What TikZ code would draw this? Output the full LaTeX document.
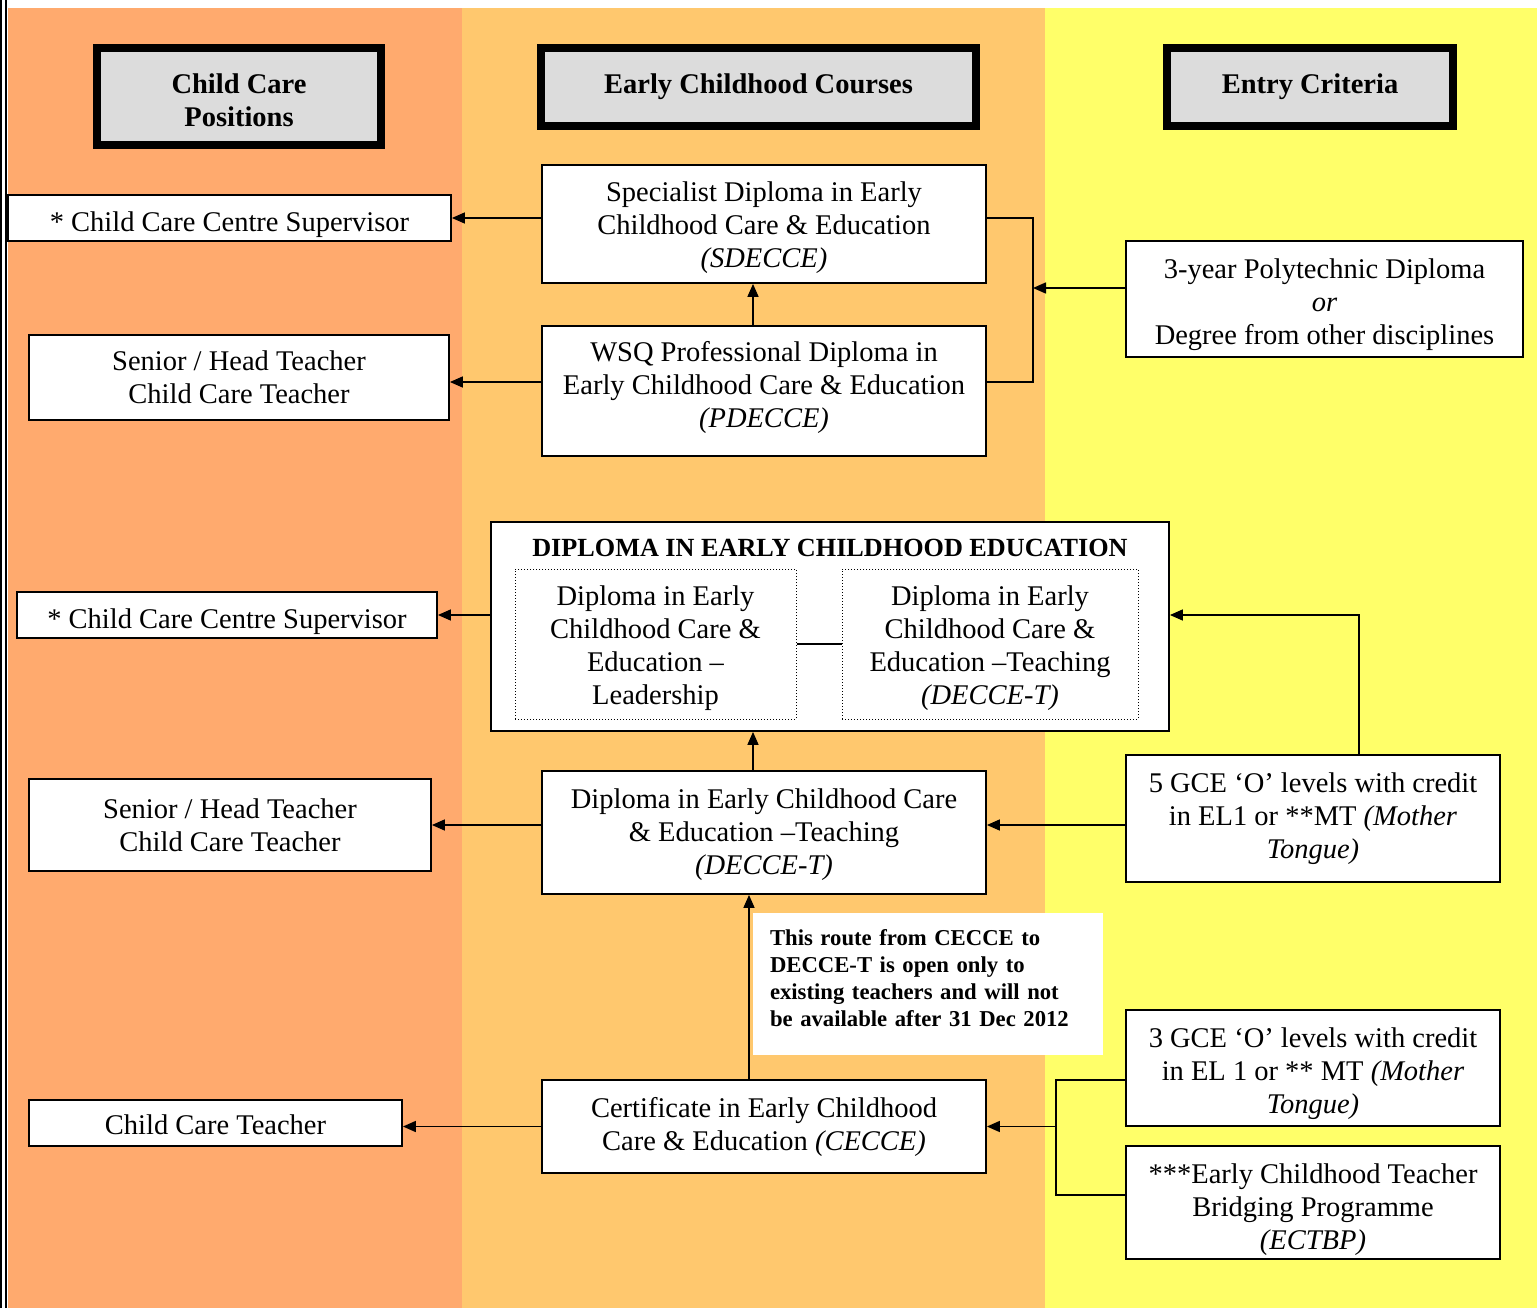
\documentclass[tikz,border=0pt]{standalone}
\usepackage{fontspec}
\setmainfont{Liberation Serif}
\usetikzlibrary{arrows.meta}
\definecolor{colA}{RGB}{255,170,110}
\definecolor{colB}{RGB}{255,200,110}
\definecolor{colC}{RGB}{255,255,105}
\definecolor{hgray}{RGB}{220,220,220}
\newcommand\mvtext[3]{\raisebox{#1}[\height][\depth]{\begin{tabular}{@{}#2@{}}#3\end{tabular}}}
\begin{document}
\begin{tikzpicture}[x=1pt,y=-1pt,
  every node/.style={font=\fontsize{28.5}{33}\selectfont},
  box/.style={draw=black, line width=1.8pt, fill=white, inner sep=0pt, align=center},
  inbox/.style={draw=black, line width=1pt, dotted, inner sep=0pt, align=center},
  hdr/.style={draw=black, line width=6pt, fill=hgray, inner sep=0pt, align=center, font=\bfseries\fontsize{28.5}{33}\selectfont},
  arr/.style={line width=1.6pt, -{Triangle[length=13pt,width=11pt]}},
  ln/.style={line width=1.6pt}]
\useasboundingbox (0,0) rectangle (1537,1308);
% backgrounds
\fill[white] (0,0) rectangle (1537,1308);
\fill[colA] (8,8) rectangle (462,1308);
\fill[colB] (462,8) rectangle (1045,1308);
\fill[colC] (1045,8) rectangle (1537,1308);
\draw[line width=1.6pt] (1,0) -- (1,1308);
\draw[line width=1.6pt] (6,0) -- (6,1308);
% headers
\node[hdr, minimum width=286, minimum height=99] (h1) at (239,96.5) {\mvtext{-7pt}{c}{Child Care\\Positions}};
\node[hdr, minimum width=437, minimum height=80] (h2) at (758.5,87) {Early Childhood Courses};
\node[hdr, minimum width=288, minimum height=80] (h3) at (1310,87) {Entry Criteria};
\foreach \h in {h1,h2,h3}{
  \draw[line width=1.5pt] ([shift={(7,7)}]\h.north west) rectangle ([shift={(-7,-7)}]\h.south east);
}
% left column
\node[box, minimum width=443, minimum height=46] (l1) at (229.5,218) {\mvtext{-7pt}{c}{* Child Care Centre Supervisor}};
\node[box, minimum width=420, minimum height=85] (l2) at (239,377.5) {Senior / Head Teacher\\Child Care Teacher};
\node[box, minimum width=420, minimum height=46] (l3) at (227,615) {\mvtext{-7pt}{c}{* Child Care Centre Supervisor}};
\node[box, minimum width=402, minimum height=92] (l4) at (230,825) {Senior / Head Teacher\\Child Care Teacher};
\node[box, minimum width=373, minimum height=46] (l5) at (215.5,1123) {\mvtext{-5pt}{c}{Child Care Teacher}};
% middle column
\node[box, minimum width=444, minimum height=118] (m1) at (764,224) {\mvtext{-4pt}{c}{Specialist Diploma in Early\\Childhood Care \& Education\\\textit{(SDECCE)}}};
\node[box, minimum width=444, minimum height=130] (m2) at (764,391) {\mvtext{3pt}{c}{WSQ Professional Diploma in\\Early Childhood Care \& Education\\\textit{(PDECCE)}}};
\node[box, minimum width=678, minimum height=209] (m3) at (830,626.5) {};
\node[font=\bfseries\fontsize{26.2}{30}\selectfont, inner sep=0pt] (m3t) at (830,548) {DIPLOMA IN EARLY CHILDHOOD EDUCATION};
\node[inbox, minimum width=281, minimum height=150] (m3a) at (655.5,644) {\mvtext{-4pt}{c}{Diploma in Early\\Childhood Care \&\\Education –\\Leadership}};
\node[inbox, minimum width=296, minimum height=150] (m3b) at (990,644) {\mvtext{-4pt}{c}{Diploma in Early\\Childhood Care \&\\Education –Teaching\\\textit{(DECCE-T)}}};
\node[box, minimum width=444, minimum height=123] (m4) at (764,832.5) {\mvtext{-2pt}{c}{Diploma in Early Childhood Care\\\& Education –Teaching\\\textit{(DECCE-T)}}};
\node[fill=white, minimum width=350, minimum height=142, text width=316, inner xsep=17pt, inner ysep=0pt, align=left, font=\bfseries\fontsize{22.7}{27}\selectfont] (note) at (928,984) {\mvtext{3pt}{l}{This route from CECCE to\\DECCE-T is open only to\\existing teachers and will not\\be available after 31 Dec 2012}};
\node[box, minimum width=444, minimum height=93] (m5) at (764,1126.5) {Certificate in Early Childhood\\Care \& Education \textit{(CECCE)}};
% right column
\node[box, minimum width=397, minimum height=116] (r1) at (1324.5,299) {\mvtext{-6pt}{c}{3-year Polytechnic Diploma\\\textit{or}\\Degree from other disciplines}};
\node[box, minimum width=374, minimum height=127] (r2) at (1313,818.5) {5 GCE ‘O’ levels with credit\\in EL1 or **MT \textit{(Mother}\\\textit{Tongue)}};
\node[box, minimum width=374, minimum height=116] (r3) at (1313,1068) {\mvtext{-6pt}{c}{3 GCE ‘O’ levels with credit\\in EL 1 or ** MT \textit{(Mother}\\\textit{Tongue)}}};
\node[box, minimum width=374, minimum height=113] (r4) at (1313,1202.5) {\mvtext{-7pt}{c}{***Early Childhood Teacher\\Bridging Programme\\\textit{(ECTBP)}}};
% connectors
\coordinate (b1) at (1033,218);
\coordinate (b2) at (1033,382);
\coordinate (b3) at (1033,288);
\coordinate (c1) at (1359,615);
\coordinate (d1) at (1056,1080);
\coordinate (d2) at (1056,1195);
\draw[arr] (m1.west |- b1) -- (l1.east |- b1);
\draw[arr] (m2.west |- b2) -- (l2.east |- b2);
\draw[arr] ([xshift=-11pt]m2.north) -- ([xshift=-11pt]m1.south);
\draw[ln] (m1.east |- b1) -- (b1) -- (b2) -- (m2.east |- b2);
\draw[arr] (r1.west |- b3) -- (b3);
\draw[arr] (m3.west |- l3.east) -- (l3.east);
\draw[arr] (r2.north -| c1) -- (c1) -- (m3.east |- c1);
\draw[ln] (m3a.east) -- (m3b.west);
\draw[arr] ([xshift=-11pt]m4.north) -- ([xshift=-11pt]m4.north |- m3.south);
\draw[arr] (m4.west |- l4.east) -- (l4.east);
\draw[arr] (r2.west |- l4.east) -- (m4.east |- l4.east);
\draw[arr] ([xshift=-15pt]m5.north) -- ([xshift=-15pt]m4.south);
\draw[arr] (m5.west) -- (l5.east |- m5.west);
\draw[ln] (r3.west |- d1) -- (d1) -- (d2) -- (r4.west |- d2);
\draw[arr] (d1 |- m5.east) -- (m5.east);
\end{tikzpicture}
\end{document}
